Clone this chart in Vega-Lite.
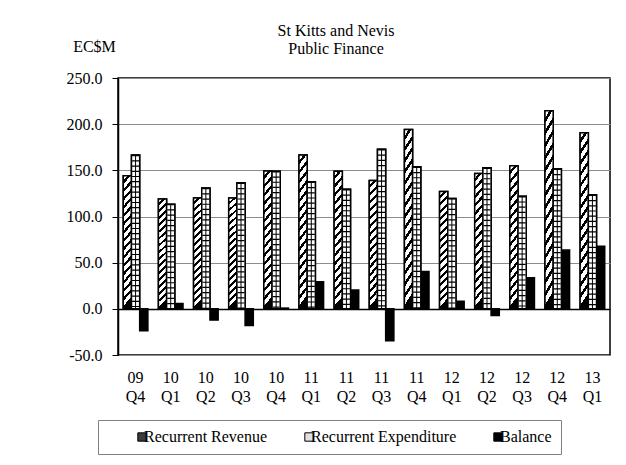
{
  "$schema": "https://vega.github.io/schema/vega-lite/v6.json",
  "width": 492,
  "height": 277,
  "autosize": {"type": "none"},
  "padding": {"left": 118, "top": 78, "right": 16, "bottom": 110},
  "background": "white",
  "config": {
    "font": "Liberation Serif",
    "view": {"stroke": "black", "strokeWidth": 1.5},
    "axis": {"labelFont": "Liberation Serif", "titleFont": "Liberation Serif", "labelColor": "black", "titleColor": "black"},
    "legend": {"labelFont": "Liberation Serif", "titleFont": "Liberation Serif"}
  },
  "title": {
    "text": ["St Kitts and Nevis", "Public Finance"],
    "font": "Liberation Serif",
    "fontSize": 16,
    "fontWeight": "normal",
    "color": "black",
    "anchor": "middle",
    "frame": "group",
    "dx": -28,
    "offset": -19,
    "lineHeight": 18
  },
  "data": {
    "values": [
      {"q": "09 Q4", "series": "Recurrent Revenue", "value": 144.0},
      {"q": "09 Q4", "series": "Recurrent Expenditure", "value": 166.5},
      {"q": "09 Q4", "series": "Balance", "value": -23.8},
      {"q": "10 Q1", "series": "Recurrent Revenue", "value": 119.0},
      {"q": "10 Q1", "series": "Recurrent Expenditure", "value": 113.4},
      {"q": "10 Q1", "series": "Balance", "value": 5.8},
      {"q": "10 Q2", "series": "Recurrent Revenue", "value": 120.0},
      {"q": "10 Q2", "series": "Recurrent Expenditure", "value": 130.8},
      {"q": "10 Q2", "series": "Balance", "value": -12.2},
      {"q": "10 Q3", "series": "Recurrent Revenue", "value": 120.0},
      {"q": "10 Q3", "series": "Recurrent Expenditure", "value": 136.5},
      {"q": "10 Q3", "series": "Balance", "value": -18.0},
      {"q": "10 Q4", "series": "Recurrent Revenue", "value": 149.2},
      {"q": "10 Q4", "series": "Recurrent Expenditure", "value": 149.0},
      {"q": "10 Q4", "series": "Balance", "value": 0.8},
      {"q": "11 Q1", "series": "Recurrent Revenue", "value": 166.5},
      {"q": "11 Q1", "series": "Recurrent Expenditure", "value": 137.6},
      {"q": "11 Q1", "series": "Balance", "value": 29.3},
      {"q": "11 Q2", "series": "Recurrent Revenue", "value": 149.0},
      {"q": "11 Q2", "series": "Recurrent Expenditure", "value": 129.4},
      {"q": "11 Q2", "series": "Balance", "value": 20.3},
      {"q": "11 Q3", "series": "Recurrent Revenue", "value": 139.0},
      {"q": "11 Q3", "series": "Recurrent Expenditure", "value": 172.7},
      {"q": "11 Q3", "series": "Balance", "value": -34.6},
      {"q": "11 Q4", "series": "Recurrent Revenue", "value": 194.3},
      {"q": "11 Q4", "series": "Recurrent Expenditure", "value": 153.9},
      {"q": "11 Q4", "series": "Balance", "value": 40.5},
      {"q": "12 Q1", "series": "Recurrent Revenue", "value": 127.2},
      {"q": "12 Q1", "series": "Recurrent Expenditure", "value": 119.6},
      {"q": "12 Q1", "series": "Balance", "value": 8.3},
      {"q": "12 Q2", "series": "Recurrent Revenue", "value": 146.7},
      {"q": "12 Q2", "series": "Recurrent Expenditure", "value": 152.8},
      {"q": "12 Q2", "series": "Balance", "value": -7.2},
      {"q": "12 Q3", "series": "Recurrent Revenue", "value": 155.0},
      {"q": "12 Q3", "series": "Recurrent Expenditure", "value": 122.0},
      {"q": "12 Q3", "series": "Balance", "value": 33.6},
      {"q": "12 Q4", "series": "Recurrent Revenue", "value": 214.5},
      {"q": "12 Q4", "series": "Recurrent Expenditure", "value": 151.7},
      {"q": "12 Q4", "series": "Balance", "value": 63.6},
      {"q": "13 Q1", "series": "Recurrent Revenue", "value": 190.7},
      {"q": "13 Q1", "series": "Recurrent Expenditure", "value": 123.5},
      {"q": "13 Q1", "series": "Balance", "value": 67.9}
    ]
  },
  "encoding": {
    "x": {
      "field": "q",
      "type": "nominal",
      "sort": null,
      "scale": {"paddingInner": 0.3, "paddingOuter": 0.15},
      "axis": {
        "title": null,
        "labelAngle": 0,
        "labelExpr": "split(datum.label, ' ')",
        "labelFontSize": 16,
        "labelLineHeight": 19,
        "labelPadding": 14,
        "ticks": false,
        "domain": false,
        "grid": false
      }
    },
    "xOffset": {
      "field": "series",
      "type": "nominal",
      "scale": {"domain": ["Recurrent Revenue", "Recurrent Expenditure", "Balance"], "paddingInner": 0}
    },
    "y": {
      "field": "value",
      "type": "quantitative",
      "scale": {"domain": [-50, 250], "nice": false, "zero": false},
      "axis": {
        "values": [-50, 0, 50, 100, 150, 200, 250],
        "labelExpr": "replace(format(datum.value, '.1f'), '\u2212', '-')",
        "labelFontSize": 16,
        "tickSize": 6,
        "tickColor": "black",
        "domainColor": "black",
        "domainWidth": 1.5,
        "labelPadding": 10,
        "title": "EC$M",
        "titleAngle": 0,
        "titleFontSize": 16,
        "titleFontWeight": "normal",
        "titleAlign": "center",
        "titleBaseline": "middle",
        "titleX": -24,
        "titleY": -32,
        "grid": true,
        "gridColor": {"condition": {"test": "datum.value === 0", "value": "black"}, "value": "#8c8c8c"},
        "gridWidth": {"condition": {"test": "datum.value === 0", "value": 1.5}, "value": 1}
      }
    }
  },
  "layer": [
    {
      "mark": {"type": "bar", "stroke": "black", "strokeWidth": 1.5},
      "encoding": {
        "fill": {
          "field": "series",
          "type": "nominal",
          "scale": {"domain": ["Recurrent Revenue", "Recurrent Expenditure", "Balance"], "range": ["#3c3c3c", "#e0e0e0", "black"]},
          "legend": {
            "orient": "none",
            "legendX": -20,
            "legendY": 342,
            "direction": "horizontal",
            "title": null,
            "strokeColor": "#808080",
            "padding": 9,
            "symbolType": "square",
            "symbolSize": 70,
            "symbolStrokeColor": "black",
            "symbolStrokeWidth": 1,
            "symbolOffset": 27,
            "labelOffset": -6,
            "labelFontSize": 16,
            "labelFont": "Liberation Serif",
            "labelColor": "black",
            "labelLimit": 300,
            "labelExpr": "datum.label === 'Balance' ? 'Balance ' : datum.label",
            "columnPadding": 6
          }
        }
      }
    },
    {
      "transform": [{"filter": "datum.series === 'Recurrent Revenue'"}],
      "mark": {
        "type": "bar",
        "stroke": "black",
        "strokeWidth": 1.5,
        "fill": {
          "gradient": "linear",
          "x1": 0, "y1": 0, "x2": 0.07, "y2": 1,
          "stops": [
            {"offset": 0, "color": "white"}, {"offset": 0.0375, "color": "white"}, {"offset": 0.0375, "color": "black"}, {"offset": 0.0625, "color": "black"},
            {"offset": 0.0625, "color": "white"}, {"offset": 0.1, "color": "white"}, {"offset": 0.1, "color": "black"}, {"offset": 0.125, "color": "black"},
            {"offset": 0.125, "color": "white"}, {"offset": 0.1625, "color": "white"}, {"offset": 0.1625, "color": "black"}, {"offset": 0.1875, "color": "black"},
            {"offset": 0.1875, "color": "white"}, {"offset": 0.225, "color": "white"}, {"offset": 0.225, "color": "black"}, {"offset": 0.25, "color": "black"},
            {"offset": 0.25, "color": "white"}, {"offset": 0.2875, "color": "white"}, {"offset": 0.2875, "color": "black"}, {"offset": 0.3125, "color": "black"},
            {"offset": 0.3125, "color": "white"}, {"offset": 0.35, "color": "white"}, {"offset": 0.35, "color": "black"}, {"offset": 0.375, "color": "black"},
            {"offset": 0.375, "color": "white"}, {"offset": 0.4125, "color": "white"}, {"offset": 0.4125, "color": "black"}, {"offset": 0.4375, "color": "black"},
            {"offset": 0.4375, "color": "white"}, {"offset": 0.475, "color": "white"}, {"offset": 0.475, "color": "black"}, {"offset": 0.5, "color": "black"},
            {"offset": 0.5, "color": "white"}, {"offset": 0.5375, "color": "white"}, {"offset": 0.5375, "color": "black"}, {"offset": 0.5625, "color": "black"},
            {"offset": 0.5625, "color": "white"}, {"offset": 0.6, "color": "white"}, {"offset": 0.6, "color": "black"}, {"offset": 0.625, "color": "black"},
            {"offset": 0.625, "color": "white"}, {"offset": 0.6625, "color": "white"}, {"offset": 0.6625, "color": "black"}, {"offset": 0.6875, "color": "black"},
            {"offset": 0.6875, "color": "white"}, {"offset": 0.725, "color": "white"}, {"offset": 0.725, "color": "black"}, {"offset": 0.75, "color": "black"},
            {"offset": 0.75, "color": "white"}, {"offset": 0.7875, "color": "white"}, {"offset": 0.7875, "color": "black"}, {"offset": 0.8125, "color": "black"},
            {"offset": 0.8125, "color": "white"}, {"offset": 0.85, "color": "white"}, {"offset": 0.85, "color": "black"}, {"offset": 0.875, "color": "black"},
            {"offset": 0.875, "color": "white"}, {"offset": 0.9125, "color": "white"}, {"offset": 0.9125, "color": "black"}, {"offset": 0.9375, "color": "black"},
            {"offset": 0.9375, "color": "white"}, {"offset": 0.975, "color": "white"}, {"offset": 0.975, "color": "black"}, {"offset": 1, "color": "black"}
          ]
        }
      }
    },
    {
      "transform": [{"filter": "datum.series === 'Recurrent Expenditure'"}],
      "mark": {"type": "bar", "fill": "white", "strokeWidth": 0}
    },
    {
      "transform": [{"filter": "datum.series === 'Recurrent Expenditure'"}],
      "mark": {"type": "rule", "stroke": "black", "strokeWidth": 7, "strokeDash": [1.2, 4]},
      "encoding": {"y2": {"datum": 0}}
    },
    {
      "transform": [{"filter": "datum.series === 'Recurrent Expenditure'"}],
      "mark": {"type": "rule", "stroke": "black", "strokeWidth": 1},
      "encoding": {"y2": {"datum": 0}}
    },
    {
      "transform": [{"filter": "datum.series === 'Recurrent Expenditure'"}],
      "mark": {"type": "bar", "fill": "transparent", "stroke": "black", "strokeWidth": 1.5}
    }
  ]
}
